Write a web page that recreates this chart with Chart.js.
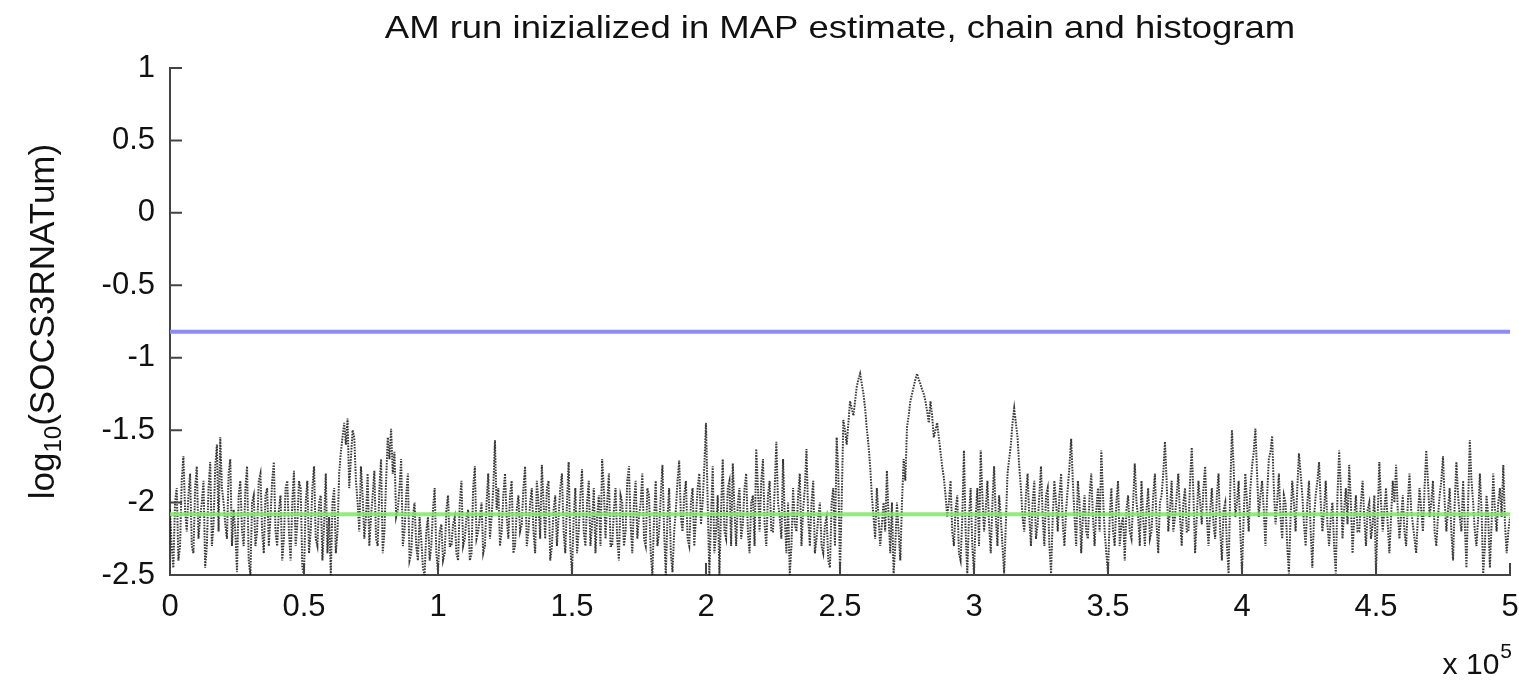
<!DOCTYPE html>
<html>
<head>
<meta charset="utf-8">
<title>AM chain</title>
<script src="https://cdn.jsdelivr.net/npm/chart.js@4/dist/chart.umd.min.js"></script>
<style>
  html, body { margin: 0; padding: 0; background: #fff; overflow: hidden; }
  #wrap { width: 1519px; height: 686px; }
</style>
</head>
<body>
<div id="wrap"><canvas id="chainChart"></canvas></div>
<script>
'use strict';

// chain sampled every 1250 iterations (x in units of 1e5) ...
const chainStep = 0.0125;
const chainY = [
    -2.05, -2.45, -1.9, -2.3, -1.68, -2.2, -1.8, -2.35, -1.75, -2.1, -1.85, -2.3, -1.72, -2.15, -1.6, -1.55, -2.0, -2.25, -1.7, -2.05,
    -2.48, -1.85, -2.3, -1.75, -2.5, -1.95, -2.2, -1.8, -2.35, -1.9, -2.1, -1.72, -2.3, -1.95, -2.25, -1.85, -2.4, -1.78, -2.15, -1.9,
    -2.5, -1.85, -2.2, -1.75, -2.3, -1.95, -2.15, -2.35, -2.5, -1.9, -2.2, -1.65, -1.45, -1.42, -1.7, -1.55, -2.0, -1.75, -2.25, -1.8,
    -2.1, -1.78, -2.3, -1.7, -2.2, -1.55, -1.49, -1.65, -2.05, -1.7, -2.2, -1.8, -2.35, -2.0, -2.4, -2.25, -2.5, -2.1, -2.3, -1.9,
    -2.48, -2.15, -2.35, -1.95, -2.3, -2.1, -2.4, -1.85, -2.25, -2.05, -2.35, -1.75, -2.2, -2.0, -2.3, -1.8, -2.1, -1.57, -1.9, -2.2,
    -1.8, -2.25, -1.85, -2.3, -1.95, -2.15, -1.75, -2.2, -1.9, -2.35, -2.0, -1.74, -2.25, -1.85, -2.3, -1.95, -2.1, -1.8, -2.35, -1.72,
    -2.5, -1.9, -2.2, -1.77, -2.3, -1.85, -2.15, -2.35, -1.95, -1.7, -2.25, -1.8, -2.3, -1.9, -2.4, -2.0, -2.2, -1.75, -2.35, -1.85,
    -2.1, -1.8, -2.3, -1.95, -2.5, -1.85, -2.2, -1.74, -2.5, -1.9, -2.48, -2.05, -1.71, -2.2, -1.85, -2.3, -1.9, -2.1, -1.8, -2.0,
    -1.45, -2.5, -1.75, -2.2, -2.5, -1.7, -2.25, -1.85, -1.73, -2.3, -1.9, -2.15, -1.8, -2.35, -1.95, -1.63, -2.2, -1.7, -2.3, -1.85,
    -2.2, -1.58, -2.1, -1.7, -2.35, -2.5, -1.9, -2.2, -1.8, -2.05, -1.63, -2.3, -1.85, -2.25, -2.0, -2.35, -2.1, -2.45, -1.9, -1.55,
    -2.49, -1.43, -1.6, -1.3, -1.4, -1.2, -1.11, -1.25, -1.49, -1.75, -2.1, -1.9, -2.3, -2.0, -1.78, -2.35, -2.49, -2.0, -2.4, -1.7,
    -1.48, -1.3, -1.2, -1.11, -1.18, -1.25, -1.37, -1.3, -1.55, -1.45, -1.65, -1.83, -2.1, -1.85, -2.3, -1.95, -2.4, -1.64, -2.49, -1.9,
    -2.49, -1.9, -1.64, -2.2, -1.85, -2.35, -1.75, -2.3, -2.1, -2.49, -1.8, -1.6, -1.35, -1.55, -1.9, -2.2, -1.8, -2.3, -1.85, -2.15,
    -1.75, -2.3, -1.9, -2.49, -1.85, -2.2, -1.8, -2.3, -1.9, -1.56, -2.1, -1.85, -2.35, -1.95, -2.25, -1.8, -2.3, -1.9, -1.64, -2.2,
    -2.49, -1.9, -2.3, -1.85, -2.15, -2.4, -1.95, -2.25, -1.73, -2.1, -1.85, -2.3, -1.9, -2.2, -1.8, -2.35, -1.95, -1.58, -2.2, -1.85,
    -2.1, -1.8, -2.3, -1.9, -2.2, -1.62, -2.35, -1.85, -2.15, -1.75, -2.3, -1.9, -2.25, -1.8, -2.4, -2.0, -2.49, -1.5, -2.1, -1.85,
    -2.49, -1.8, -2.2, -1.75, -1.49, -2.1, -1.85, -2.3, -1.7, -1.54, -2.15, -1.8, -2.25, -2.0, -2.49, -1.85, -2.2, -1.66, -1.95, -2.3,
    -1.85, -2.45, -1.95, -1.72, -2.2, -1.85, -2.3, -2.0, -2.49, -1.64, -2.25, -1.9, -1.74, -2.35, -1.95, -2.2, -1.85, -2.3, -2.0, -2.15,
    -2.49, -1.72, -2.2, -1.9, -2.35, -1.85, -1.74, -2.25, -1.95, -2.3, -1.8, -2.15, -2.35, -1.9, -2.2, -1.64, -2.1, -1.85, -2.3, -1.95,
    -1.68, -2.2, -1.9, -2.4, -1.72, -2.1, -1.85, -2.45, -1.57, -2.0, -2.3, -1.8, -2.49, -1.95, -2.45, -1.8, -2.2, -1.9, -1.74, -2.35,
    -2.1
];
// ... plus the samples half a step later
const chainYHalf = [
    -2.3, -2.0, -2.4, -1.85, -2.05, -1.95, -2.3, -1.9, -2.25, -2.0, -2.45, -1.9, -2.3, -1.75, -2.2, -1.9, -2.15, -1.8, -2.3, -2.2,
    -1.95, -2.2, -1.9, -2.4, -2.0, -2.3, -1.85, -2.2, -1.95, -2.3, -1.85, -2.2, -2.05, -2.4, -1.9, -2.2, -2.0, -2.3, -1.85, -2.45,
    -2.0, -2.35, -1.9, -2.25, -2.0, -2.4, -1.8, -2.1, -2.0, -2.35, -1.8, -1.55, -1.6, -1.9, -1.5, -1.85, -2.2, -1.95, -2.1, -2.3,
    -1.95, -2.25, -1.9, -2.35, -1.85, -1.7, -1.8, -2.1, -1.9, -2.3, -1.95, -2.4, -2.1, -2.3, -2.1, -2.45, -2.2, -2.4, -2.05, -2.35,
    -2.2, -2.4, -2.05, -2.3, -2.15, -2.35, -2.0, -2.3, -2.1, -2.4, -1.9, -2.25, -2.1, -2.35, -2.0, -2.25, -1.9, -2.05, -2.3, -1.95,
    -2.1, -1.95, -2.35, -2.05, -2.2, -1.9, -2.3, -2.0, -2.2, -1.85, -2.25, -2.0, -1.9, -2.4, -2.05, -2.3, -1.9, -2.2, -2.0, -2.3,
    -2.1, -2.35, -1.95, -2.2, -2.0, -2.3, -1.9, -2.1, -2.3, -1.9, -2.0, -2.3, -2.05, -2.25, -1.95, -2.3, -1.85, -2.15, -2.0, -2.25,
    -2.0, -2.25, -1.9, -2.35, -2.1, -2.3, -1.95, -2.2, -2.1, -2.35, -2.2, -1.85, -2.1, -1.95, -2.25, -2.0, -2.3, -1.9, -2.15, -1.75,
    -2.0, -2.1, -2.35, -1.95, -2.05, -2.2, -1.9, -2.3, -2.05, -2.0, -2.25, -1.9, -2.2, -2.0, -2.3, -1.9, -1.85, -2.15, -1.95, -2.2,
    -1.9, -2.0, -2.25, -2.1, -2.0, -2.3, -2.15, -1.95, -2.3, -1.9, -2.1, -2.0, -2.35, -2.1, -2.3, -2.15, -2.4, -2.0, -2.3, -1.8,
    -2.0, -1.5, -1.45, -1.35, -1.3, -1.15, -1.18, -1.35, -1.6, -1.95, -2.25, -2.1, -2.15, -2.2, -2.1, -2.0, -2.3, -2.2, -2.0, -1.85,
    -1.4, -1.25, -1.15, -1.15, -1.22, -1.3, -1.45, -1.4, -1.5, -1.55, -1.75, -1.95, -2.0, -2.2, -2.05, -2.35, -2.1, -2.2, -2.1, -2.3,
    -2.1, -2.3, -1.95, -2.05, -2.15, -2.0, -2.1, -1.95, -2.3, -2.15, -1.7, -1.45, -1.45, -1.75, -2.1, -1.95, -2.1, -2.0, -2.25, -1.95,
    -2.1, -1.95, -2.3, -2.1, -2.0, -1.95, -2.15, -2.05, -1.75, -1.85, -2.3, -2.0, -2.1, -2.2, -1.95, -2.1, -2.05, -2.2, -1.95, -2.35,
    -2.1, -2.2, -2.0, -2.3, -2.1, -2.05, -2.2, -2.0, -2.0, -2.3, -2.1, -2.05, -2.25, -1.95, -2.15, -2.0, -1.8, -1.85, -2.05, -2.2,
    -1.95, -2.1, -2.0, -2.2, -1.85, -1.95, -2.1, -2.0, -1.9, -2.1, -2.05, -2.15, -1.95, -2.2, -2.05, -2.3, -1.9, -1.75, -2.0, -2.2,
    -2.1, -2.0, -1.9, -1.65, -1.8, -1.95, -2.05, -1.95, -1.65, -1.9, -2.0, -2.1, -1.95, -2.3, -2.1, -2.0, -1.9, -1.8, -2.15, -2.0,
    -2.2, -2.1, -1.85, -2.0, -2.05, -2.15, -2.1, -2.3, -1.95, -1.9, -2.05, -2.15, -2.0, -2.1, -2.2, -2.0, -2.1, -2.05, -2.25, -1.95,
    -2.1, -2.0, -2.05, -2.15, -2.1, -2.0, -2.05, -2.1, -2.2, -2.0, -2.05, -2.25, -2.1, -2.05, -1.9, -1.85, -2.0, -2.2, -2.1, -1.85,
    -2.0, -2.05, -2.2, -2.0, -1.95, -2.2, -2.15, -2.0, -1.85, -2.2, -2.1, -2.05, -2.3, -2.1, -2.15, -2.05, -2.0, -2.1, -2.15, -2.2
];

// reference levels: MAP estimate (blue) and chain mean (green)
const mapLevel  = -0.82;
const meanLevel = -2.08;
const xRange    = [0, 5];

const xTicks = [0, 0.5, 1, 1.5, 2, 2.5, 3, 3.5, 4, 4.5, 5];
const yTicks = [1, 0.5, 0, -0.5, -1, -1.5, -2, -2.5];

const titleText  = 'AM run inizialized in MAP estimate, chain and histogram';
const yLabelMain = 'log';
const yLabelSub  = '10';
const yLabelRest = '(SOCS3RNATum)';
const xExpBase   = 'x 10';
const xExpPow    = '5';

const FONT = '"Liberation Sans", Arial, Helvetica, sans-serif';
const AXIS_COLOR = '#444';
const TEXT_COLOR = '#111';

// interleave both sample sets into one trace
const chainPoints = [];
chainY.forEach((y, i) => {
    chainPoints.push({ x: i * chainStep, y });
    if (i < chainYHalf.length) chainPoints.push({ x: (i + 0.5) * chainStep, y: chainYHalf[i] });
});
const levelLine = v => xRange.map(x => ({ x, y: v }));

/* MATLAB-ish decorations: inward ticks, title, sub/superscript labels */
const matlabDecor = {
    id: 'matlabDecor',
    afterDraw(chart) {
        const { ctx, chartArea: a, scales: { x, y } } = chart;
        ctx.save();
        ctx.strokeStyle = AXIS_COLOR;
        ctx.lineWidth = 2;
        ctx.beginPath();
        xTicks.forEach(t => {
            const px = x.getPixelForValue(t);
            ctx.moveTo(px, a.bottom); ctx.lineTo(px, a.bottom - 12);
        });
        yTicks.forEach(t => {
            const py = y.getPixelForValue(t);
            ctx.moveTo(a.left, py); ctx.lineTo(a.left + 12, py);
        });
        ctx.stroke();

        ctx.fillStyle = TEXT_COLOR;
        ctx.textBaseline = 'alphabetic';

        // title (slightly widened glyphs)
        ctx.save();
        ctx.translate((a.left + a.right) / 2, 38);
        ctx.scale(1.14, 1);
        ctx.font = `32px ${FONT}`;
        ctx.textAlign = 'center';
        ctx.fillText(titleText, 0, 0);
        ctx.restore();

        // y axis label with subscript
        ctx.save();
        ctx.translate(54, (a.top + a.bottom) / 2);
        ctx.rotate(-Math.PI / 2);
        ctx.font = `35px ${FONT}`;
        const wMain = ctx.measureText(yLabelMain).width;
        const wRest = ctx.measureText(yLabelRest).width;
        ctx.font = `24px ${FONT}`;
        const wSub = ctx.measureText(yLabelSub).width;
        let cx = -(wMain + wSub + wRest) / 2;
        ctx.textAlign = 'left';
        ctx.font = `35px ${FONT}`;
        ctx.fillText(yLabelMain, cx, 0);
        cx += wMain;
        ctx.font = `24px ${FONT}`;
        ctx.fillText(yLabelSub, cx, 7);
        cx += wSub;
        ctx.font = `35px ${FONT}`;
        ctx.fillText(yLabelRest, cx, 0);
        ctx.restore();

        // exponent note under the x axis
        ctx.textAlign = 'right';
        ctx.font = `21px ${FONT}`;
        const wPow = ctx.measureText(xExpPow).width;
        ctx.fillText(xExpPow, a.right + 2, 658);
        ctx.font = `30px ${FONT}`;
        ctx.fillText(xExpBase, a.right + 1 - wPow, 674);
        ctx.restore();
    }
};

new Chart(document.getElementById('chainChart'), {
    type: 'line',
    data: {
        datasets: [
            {
                label: 'MAP',
                data: levelLine(mapLevel),
                borderColor: 'rgb(140,140,245)',
                borderWidth: 4,
                pointRadius: 0,
                order: 3
            },
            {
                label: 'chain',
                data: chainPoints,
                borderColor: 'rgba(0,0,0,0.78)',
                borderWidth: 2,
                borderDash: [1.6, 1.2],
                pointRadius: 0,
                tension: 0,
                order: 2
            },
            {
                label: 'mean',
                data: levelLine(meanLevel),
                borderColor: 'rgba(130,230,100,0.85)',
                borderWidth: 4,
                pointRadius: 0,
                order: 1
            }
        ]
    },
    options: {
        responsive: true,
        maintainAspectRatio: false,
        animation: false,
        layout: { padding: { top: 68, right: 9, left: 0, bottom: 0 } },
        plugins: { legend: { display: false }, tooltip: { enabled: false }, title: { display: false } },
        scales: {
            x: {
                type: 'linear',
                min: xRange[0], max: xRange[1],
                afterBuildTicks: s => { s.ticks = xTicks.map(value => ({ value })); },
                afterFit: s => { s.height = 111; s.paddingLeft = 0; s.paddingRight = 0; },
                grid: { display: false, drawTicks: false },
                border: { display: true, color: AXIS_COLOR, width: 2 },
                ticks: { padding: 14, color: TEXT_COLOR, font: { family: FONT, size: 31 }, maxRotation: 0,
                         callback: v => String(v) }
            },
            y: {
                min: -2.5, max: 1,
                afterBuildTicks: s => { s.ticks = yTicks.map(value => ({ value })); },
                afterFit: s => { s.width = 170; s.paddingTop = 0; s.paddingBottom = 0; },
                grid: { display: false, drawTicks: false },
                border: { display: true, color: AXIS_COLOR, width: 2 },
                ticks: { padding: 15, color: TEXT_COLOR, font: { family: FONT, size: 31 },
                         callback: v => String(v) }
            }
        }
    },
    plugins: [matlabDecor]
});
</script>
</body>
</html>
